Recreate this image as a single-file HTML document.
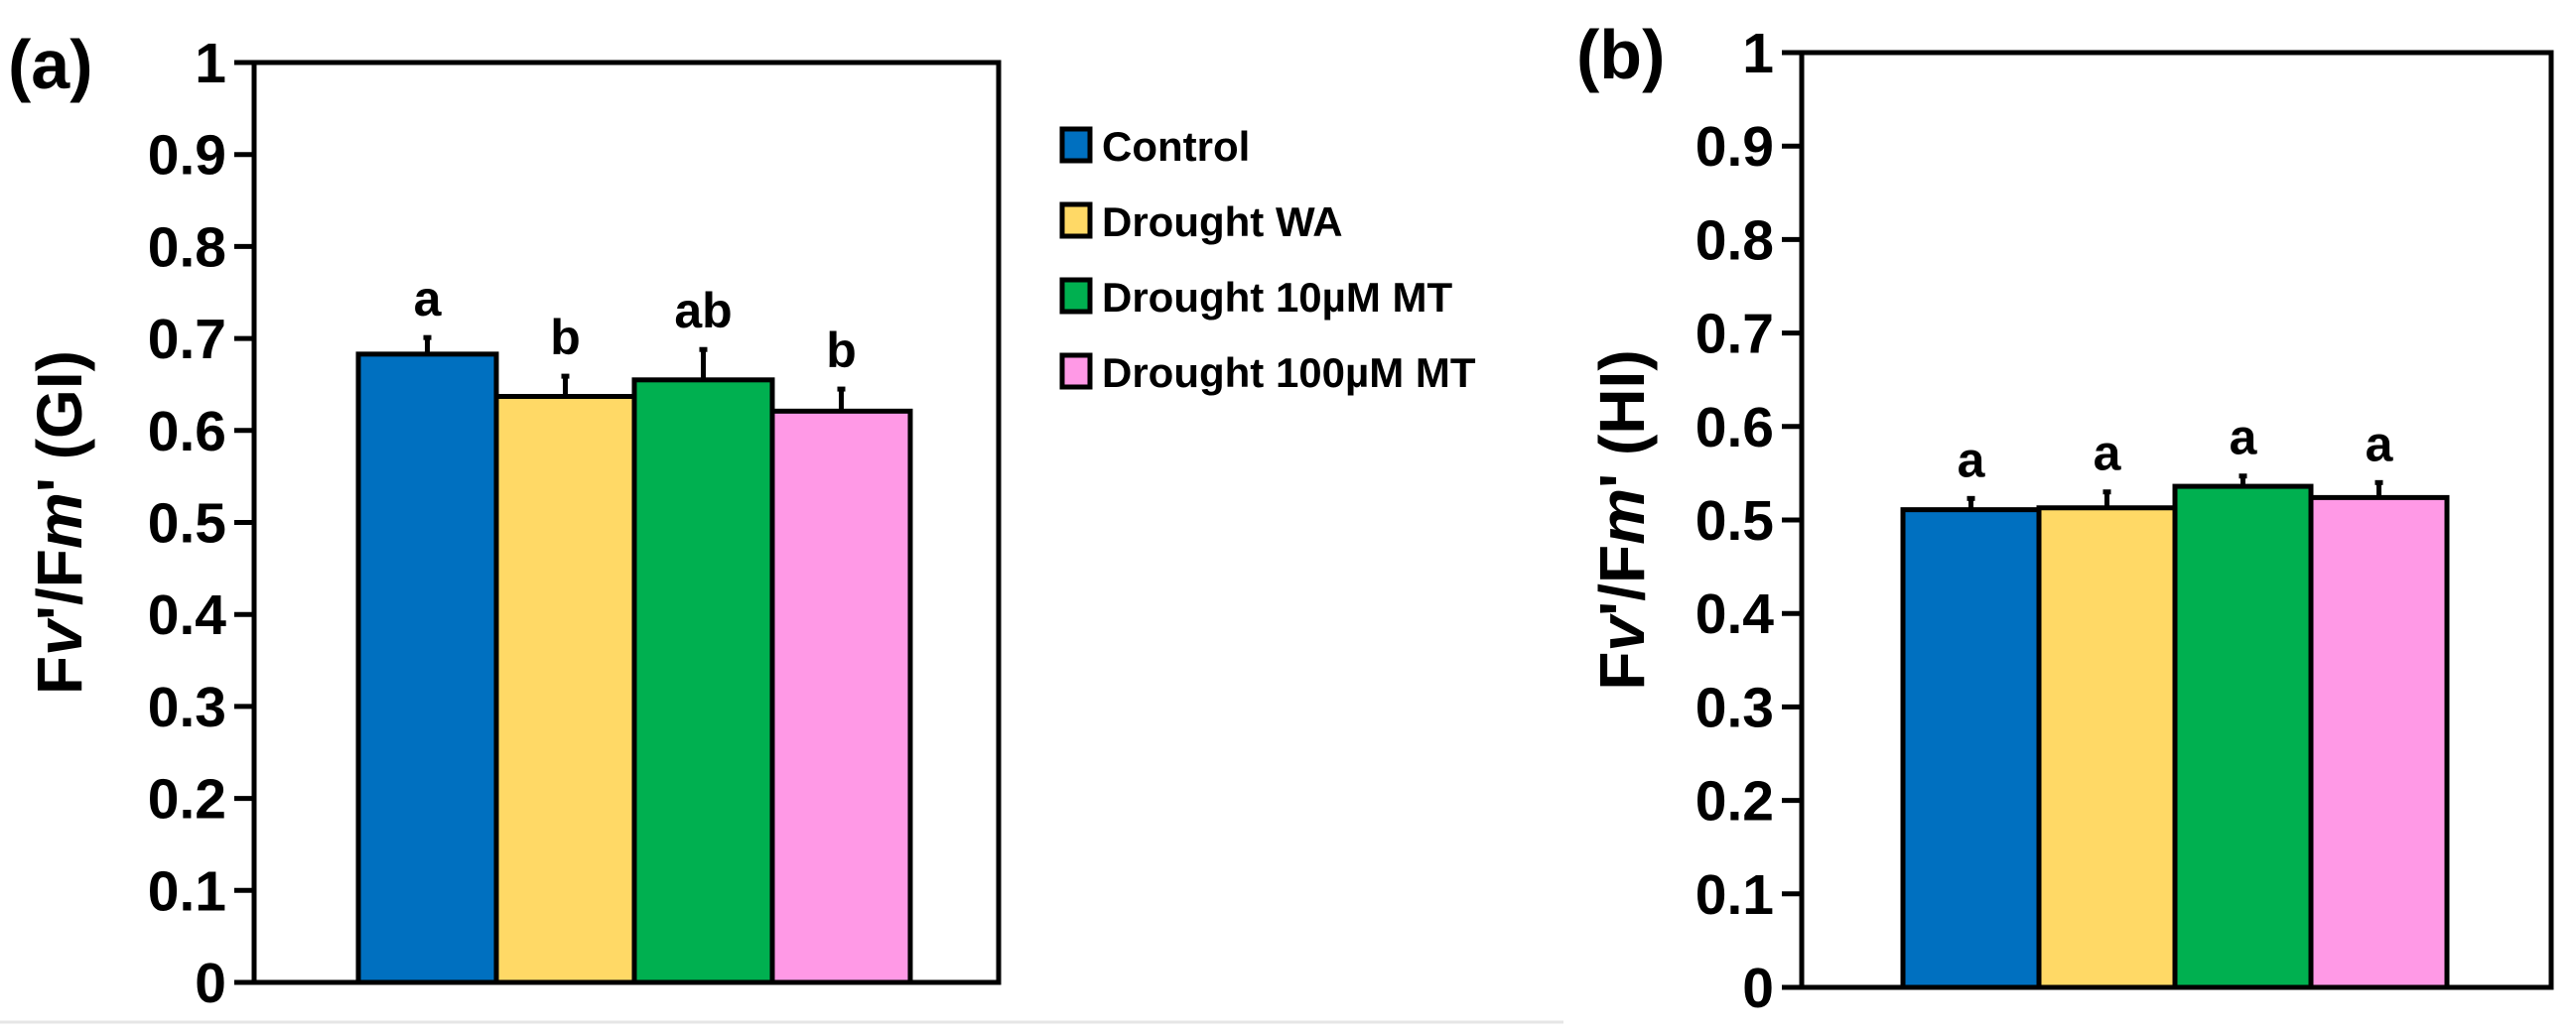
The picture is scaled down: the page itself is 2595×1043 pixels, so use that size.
<!DOCTYPE html>
<html><head><meta charset="utf-8"><style>
html,body{margin:0;padding:0;background:#fff;}
svg{display:block;font-family:"Liberation Sans","DejaVu Sans",sans-serif;font-weight:bold;}
</style></head><body>
<svg id="chart" width="2595" height="1043" viewBox="0 0 2595 1043" xmlns="http://www.w3.org/2000/svg">
<line x1="0" y1="1030" x2="1575" y2="1030" stroke="#e6e6e6" stroke-width="3"/>
</svg>
<script>
const categories = ["Control","Drought WA","Drought 10\u00b5M MT","Drought 100\u00b5M MT"];
const colors = ["#0070c0","#ffd966","#00b050","#ff99e6"];
const valuesA = [0.683,0.637,0.655,0.621];
const errorsA = [0.018,0.022,0.033,0.024];
const lettersA = ["a","b","ab","b"];
const valuesB = [0.511,0.513,0.536,0.524];
const errorsB = [0.012,0.017,0.011,0.016];
const lettersB = ["a","a","a","a"];
const yTicks = [0,0.1,0.2,0.3,0.4,0.5,0.6,0.7,0.8,0.9,1];
const yTickLabels = ["0","0.1","0.2","0.3","0.4","0.5","0.6","0.7","0.8","0.9","1"];

const svg = document.getElementById('chart');
const NS = 'http://www.w3.org/2000/svg';
function mk(tag, attrs, parent){const e=document.createElementNS(NS,tag);for(const k in attrs)e.setAttribute(k,attrs[k]);(parent||svg).appendChild(e);return e;}

function panel(p){
  const g = mk('g',{});
  
  
  const y = v => p.B - v*(p.B-p.T);
  const box = mk('rect',{x:p.L,y:p.T,width:p.R-p.L,height:p.B-p.T,fill:'none',stroke:'#000','stroke-width':5},g);
  
  
  yTicks.forEach((t,i)=>{
    const tk = mk('line',{x1:p.L-20,x2:p.L,y1:y(t),y2:y(t),stroke:'#000','stroke-width':5},g);
    
    
    const lb = mk('text',{x:p.L-28,y:y(t)+20,'text-anchor':'end','font-size':57},g);
    lb.textContent = yTickLabels[i];
    
    
  });
  p.values.forEach((v,i)=>{
    const x0 = p.barL + i*p.bw;
    const bar = mk('rect',{x:x0,y:y(v),width:p.bw,height:p.B-y(v),fill:colors[i],stroke:'#000','stroke-width':5},g);
    
    
    const cx = x0 + p.bw/2;
    const eb = mk('line',{x1:cx,x2:cx,y1:y(v),y2:y(v+p.errors[i]),stroke:'#000','stroke-width':5},g);
    
    
    const cap = mk('line',{x1:cx-4,x2:cx+4,y1:y(v+p.errors[i]),y2:y(v+p.errors[i]),stroke:'#000','stroke-width':5},g);
    
    
    const lt = mk('text',{x:cx,y:y(v+p.errors[i])-22,'text-anchor':'middle','font-size':50},g);
    lt.textContent = p.letters[i];
    
    
  });
  const tag = mk('text',{x:p.tagX,y:p.T+26,'font-size':70},g);
  tag.textContent = p.tag;
  
  
  const yt = mk('text',{x:0,y:0,'text-anchor':'middle','font-size':64,transform:`translate(${p.titleX},${(p.T+p.B)/2}) rotate(-90)`},g);
  yt.innerHTML = 'F<tspan font-style="italic">v</tspan>\'/F<tspan font-style="italic">m</tspan>\' ('+p.sub+')';
  
  
}
panel({name:'panel-a',L:256,R:1006,T:63,B:990,barL:361,bw:139,values:valuesA,errors:errorsA,letters:lettersA,tag:'(a)',tagX:8,titleX:82,sub:'GI'});
panel({name:'panel-b',L:1815,R:2570,T:53,B:995,barL:1917,bw:137,values:valuesB,errors:errorsB,letters:lettersB,tag:'(b)',tagX:1588,titleX:1656,sub:'HI'});

const leg = mk('g',{});


categories.forEach((c,i)=>{
  const yy = 146 + i*76;
  const sq = mk('rect',{x:1070,y:yy-16,width:28,height:32,fill:colors[i],stroke:'#000','stroke-width':5},leg);
  
  
  const t = mk('text',{x:1110,y:yy+16,'font-size':42},leg);
  t.textContent = c;
  
  
});
</script>
</body></html>
